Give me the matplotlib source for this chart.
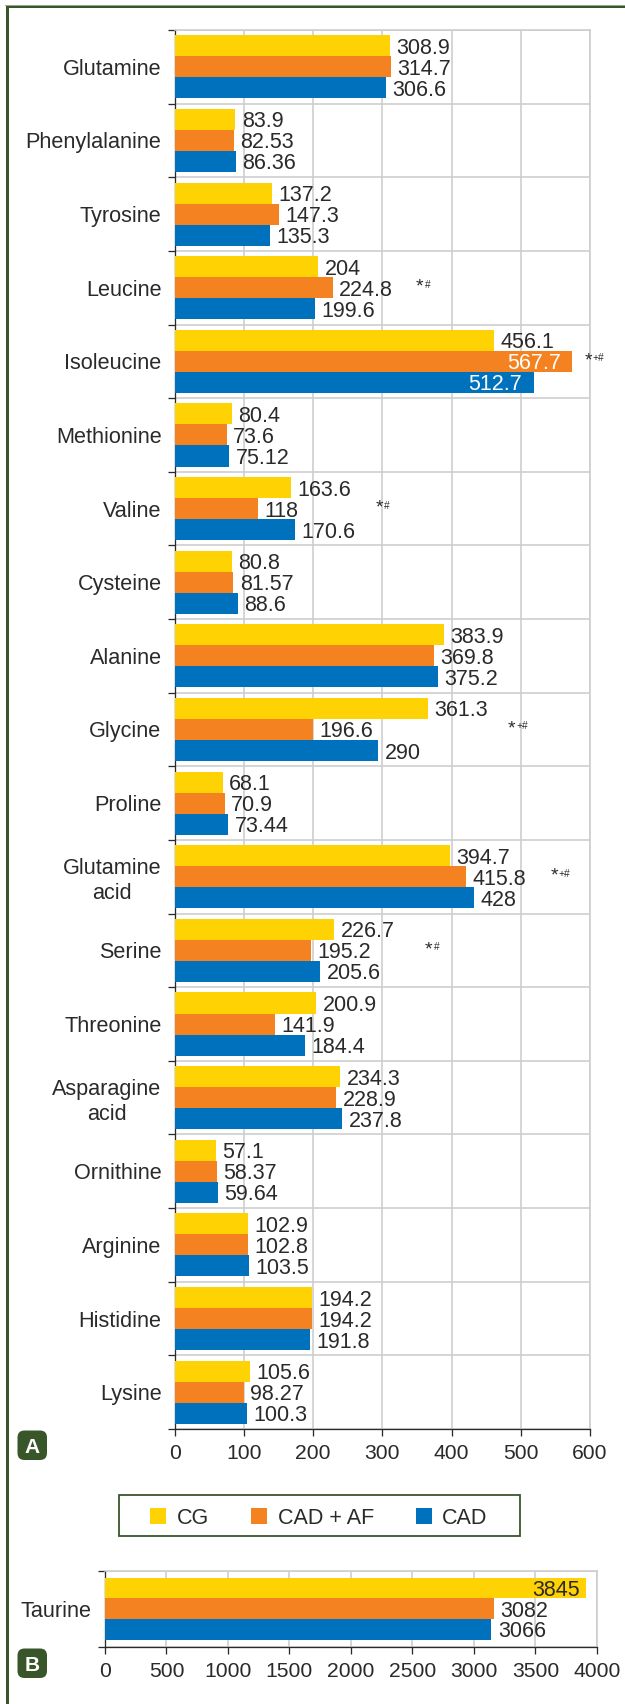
import numpy as np
import matplotlib
matplotlib.use('Agg')
import matplotlib.pyplot as plt
from matplotlib.patches import Rectangle, FancyBboxPatch

plt.rcParams['font.family'] = ['Liberation Sans', 'DejaVu Sans']

W, H = 625, 1704
DARK = '#2b2a2b'
GREEN = '#38562a'
GRID = '#cdcdcd'
colors = ['#ffd204', '#f58220', '#0071bc']
series = ['CG', 'CAD + AF', 'CAD']

categories = ['Glutamine', 'Phenylalanine', 'Tyrosine', 'Leucine', 'Isoleucine',
              'Methionine', 'Valine', 'Cysteine', 'Alanine', 'Glycine', 'Proline',
              'Glutamine\nacid', 'Serine', 'Threonine', 'Asparagine\nacid',
              'Ornithine', 'Arginine', 'Histidine', 'Lysine']

# printed values
cg_labels = ['308.9', '83.9', '137.2', '204', '456.1', '80.4', '163.6', '80.8', '383.9', '361.3',
             '68.1', '394.7', '226.7', '200.9', '234.3', '57.1', '102.9', '194.2', '105.6']
af_labels = ['314.7', '82.53', '147.3', '224.8', '567.7', '73.6', '118', '81.57', '369.8', '196.6',
             '70.9', '415.8', '195.2', '141.9', '228.9', '58.37', '102.8', '194.2', '98.27']
cad_labels = ['306.6', '86.36', '135.3', '199.6', '512.7', '75.12', '170.6', '88.6', '375.2', '290',
              '73.44', '428', '205.6', '184.4', '237.8', '59.64', '103.5', '191.8', '100.3']

# bar lengths as drawn in the picture (a little off the printed numbers)
cg_bars = [311, 87.5, 140.5, 207.3, 461.2, 82.9, 168.1, 82.9, 389.2, 366.2,
           69.7, 397.9, 230.3, 204.4, 239, 59.9, 105.9, 198.6, 108.8]
af_bars = [312.7, 85.8, 150.9, 228.6, 574, 75.4, 120.3, 84.6, 374.8, 199.8,
           72.5, 420.9, 196.9, 145.1, 233.2, 61, 105.9, 198.6, 99.6]
cad_bars = [305.2, 88.7, 137.6, 202.7, 519.4, 78.9, 173.9, 91.6, 380.6, 293.7,
            77.2, 432.4, 210.2, 188.3, 241.8, 62.8, 107.7, 195.8, 104.8]

# significance marks: category, star, small part, x value
sig_marks = [('Leucine', '*', '#', 348), ('Isoleucine', '*', '+#', 591), ('Valine', '*', '#', 290),
             ('Glycine', '*', '+#', 481), ('Glutamine\nacid', '*', '+#', 542), ('Serine', '*', '#', 361)]

xticks_a = [0, 100, 200, 300, 400, 500, 600]

taurine_labels = ['3845', '3082', '3066']
taurine_bars = [3912, 3163, 3141]
xticks_b = [0, 500, 1000, 1500, 2000, 2500, 3000, 3500, 4000]


def px(v):
    return v * 0.72


def make_axes(fig, left, right, top, bottom):
    ax = fig.add_axes([left / W, 1 - bottom / H, (right - left) / W, (bottom - top) / H])
    ax.set_axisbelow(True)
    ax.grid(True, which='major', color=GRID, lw=px(1.6))
    for s in ['top', 'right']:
        ax.spines[s].set_color(GRID)
        ax.spines[s].set_linewidth(px(1.6))
    for s in ['left', 'bottom']:
        ax.spines[s].set_color(DARK)
        ax.spines[s].set_linewidth(px(1.3))
    ax.tick_params(axis='x', length=px(7), width=px(1.3), color=DARK, pad=px(8),
                   labelsize=15.2, labelcolor=DARK)
    ax.tick_params(axis='y', which='major', length=px(7), width=px(1.3), color=DARK, labelleft=False)
    ax.tick_params(axis='y', which='minor', length=0, pad=px(13), labelsize=15.6, labelcolor=DARK)
    return ax


def draw_group(ax, y, bars, labels, height, inside=()):
    for j in range(3):
        yy = y + (j - 1) * height
        ax.barh(yy, bars[j], height=height, color=colors[j], lw=0, zorder=3)
        if j in inside:
            ax.annotate(labels[j], (bars[j], yy), xytext=(px(inside[j][0]), 0),
                        textcoords='offset points', ha='right', va='center_baseline',
                        fontsize=15.5, color=inside[j][1], zorder=4)
        else:
            ax.annotate(labels[j], (bars[j], yy), xytext=(px(6.5), 0),
                        textcoords='offset points', ha='left', va='center_baseline',
                        fontsize=15.5, color=DARK, zorder=4)


def draw_sig(ax, x, y, star, small):
    x_off = 0
    if star:
        ax.annotate(star, (x, y), xytext=(px(0.5), px(-4)), textcoords='offset points',
                    fontsize=14, color=DARK, va='baseline', ha='left', zorder=4)
        x_off = 9
    ax.annotate(small, (x, y), xytext=(px(x_off), px(0)), textcoords='offset points',
                fontsize=7.3, color=DARK, va='baseline', ha='left', zorder=4)


fig = plt.figure(figsize=(W / 100, H / 100), dpi=100)

# panel A
ax_a = make_axes(fig, 174.6, 590, 30, 1429)
n = len(categories)
ax_a.set_xlim(0, 600)
ax_a.set_ylim(n, 0)
ax_a.set_xticks(xticks_a)
ax_a.set_yticks(np.arange(n + 1))
ax_a.set_yticks(np.arange(n) + 0.5, categories, minor=True, multialignment='center', linespacing=1.25)
for i, name in enumerate(categories):
    inside = {}
    if name == 'Isoleucine':
        inside = {1: (-11, 'white'), 2: (-12, 'white')}
    draw_group(ax_a, i + 0.5, [cg_bars[i], af_bars[i], cad_bars[i]],
               [cg_labels[i], af_labels[i], cad_labels[i]], 0.2855, inside)
for name, star, small, x in sig_marks:
    draw_sig(ax_a, x, categories.index(name) + 0.5, star, small)

# panel B
ax_b = make_axes(fig, 104.9, 597, 1570.7, 1646.7)
ax_b.set_xlim(0, 4000)
ax_b.set_ylim(1, 0)
ax_b.set_xticks(xticks_b)
ax_b.set_yticks([0, 1])
ax_b.set_yticks([0.5], ['Taurine'], minor=True)
draw_group(ax_b, 0.5, taurine_bars, taurine_labels, 0.272, {0: (-6, DARK)})
draw_sig(ax_b, 4052, 0.5, '', '+#')

# frame, legend and panel letters live on a pixel-sized overlay
ov = fig.add_axes([0, 0, 1, 1], zorder=-1)
ov.set_xlim(0, W)
ov.set_ylim(H, 0)
ov.axis('off')
ov.add_patch(Rectangle((5, 4.7), W, 1, color='#9aa68c', lw=0))
ov.add_patch(Rectangle((6, 5.7), 2.8, H, color=GREEN, lw=0))
ov.add_patch(Rectangle((6, 5.7), W, 2.4, color=GREEN, lw=0))

ov.add_patch(Rectangle((119, 1494.5), 400.5, 41, fc='white', ec=GREEN, lw=px(1.8)))
for name, col, sx, tx in zip(series, colors, [150, 251.2, 416.3], [176.6, 277.5, 442.2]):
    ov.add_patch(Rectangle((sx, 1508), 16, 16, color=col, lw=0))
    ov.text(tx, 1516.5, name, fontsize=15.5, color=DARK, va='center_baseline', ha='left')

for letter, y0 in zip(['A', 'B'], [1430, 1648]):
    ov.add_patch(FancyBboxPatch((17.5, y0 + 0.5), 29.5, 29.5, boxstyle='round,pad=0,rounding_size=7',
                                fc=GREEN, ec='none'))
    ov.text(32, y0 + 15.5, letter, fontsize=15, fontweight='bold', color='white',
            ha='center', va='center_baseline')

fig.savefig('out.png', dpi=100)
